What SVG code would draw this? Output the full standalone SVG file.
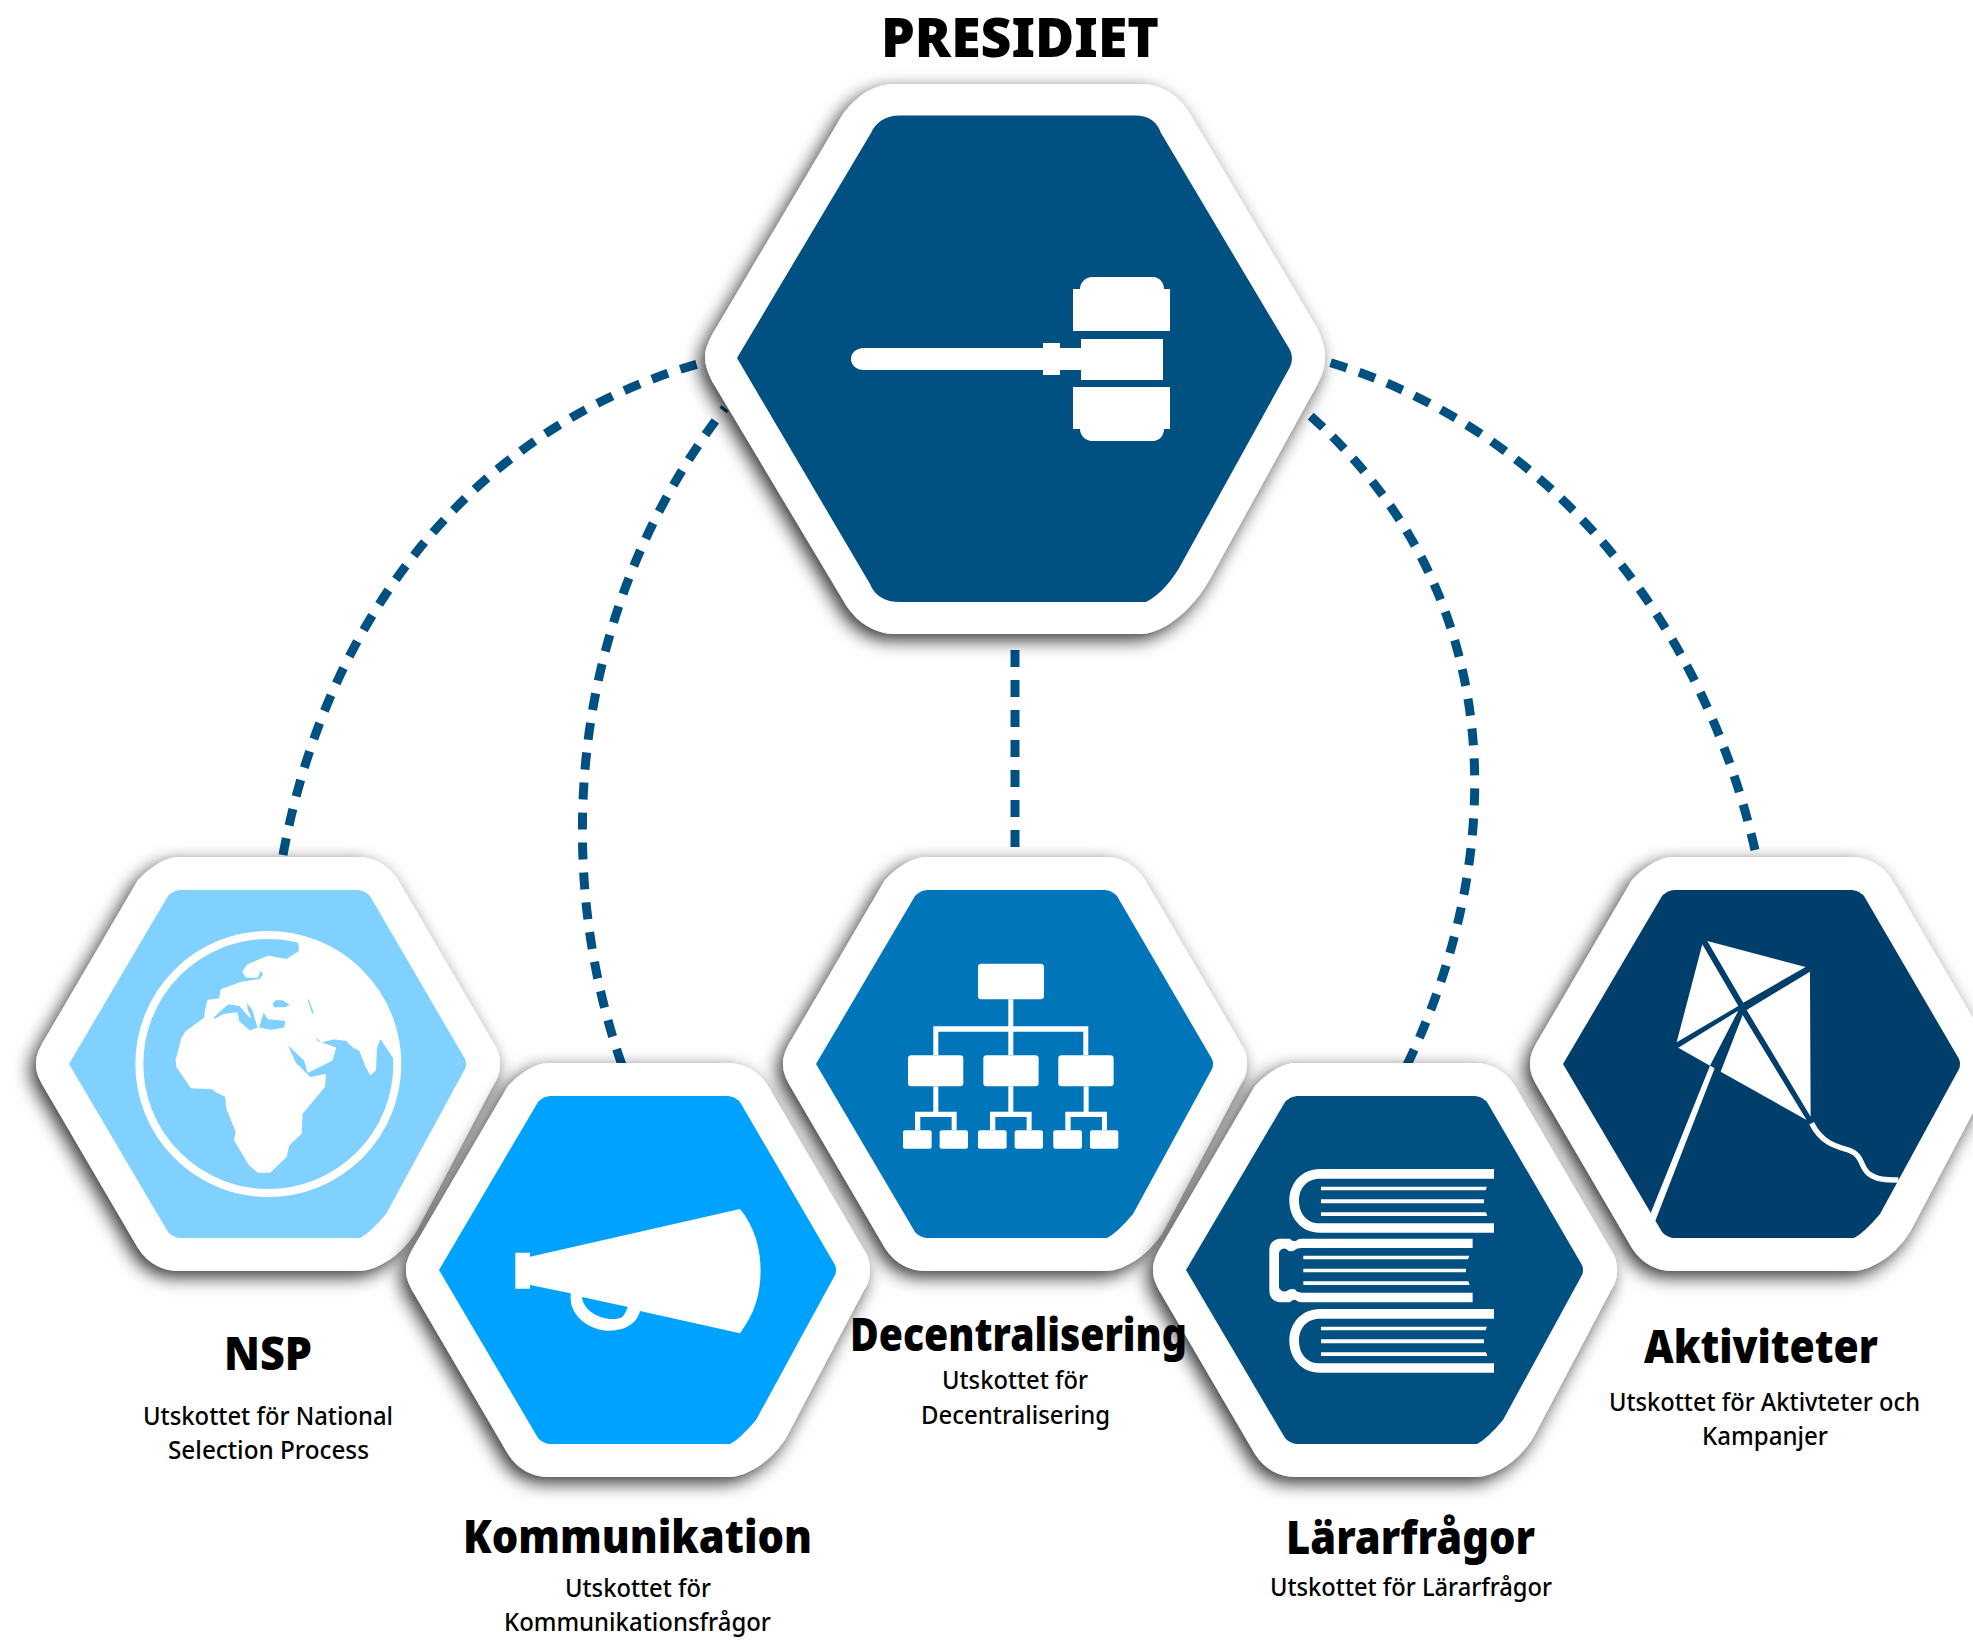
<svg xmlns="http://www.w3.org/2000/svg" width="1973" height="1641" viewBox="0 0 1973 1641">
<style>
.t{font-family:"Noto Sans","Open Sans","Liberation Sans",sans-serif;fill:#000}
.h{font-weight:900;font-size:46px}
.s{font-weight:500;font-size:25px}
.conn{fill:none;stroke:#005082;stroke-width:9;stroke-dasharray:17 13}
.w{fill:#fff}
.outer{fill:#fff;filter:url(#sh)}
</style>
<defs>
<filter id="sh" x="-20%" y="-20%" width="140%" height="140%"><feDropShadow dx="-5" dy="6" stdDeviation="9" flood-color="#000" flood-opacity=".8"/></filter>
<path id="hexO" d="M-232,0 C-232,-8 -229,-14 -226,-20 L-130,-184 C-115,-200 -100,-207 -88,-207 L88,-207 C105,-207 120,-200 130,-184 L226,-20 C230,-14 232,-8 232,0 C232,8 230,14 226,20 L149,166 C135,190 110,207 90,207 L-88,207 C-105,207 -120,200 -130,184 L-226,20 C-229,14 -232,8 -232,0Z"/>
<path id="hexI" d="M-199,0 L-100,-168 C-96,-172 -92,-174 -86,-174 L88,-174 C94,-174 98,-172 102,-168 L197,-5 Q199,0 197,5 L118,150 C108,162 98,171 92,174 L-86,174 C-92,174 -96,172 -100,168 Z"/>
<g id="book"><path d="M1032,327 L510,327 C455,327 418,370 418,422 C418,475 455,518 510,518 L1032,518 L1032,490 L510,490 C470,490 447,460 447,422 C447,385 470,356 510,356 L1032,356Z"/><path d="M513,380H1011L1007,391H513ZM513,418H1002V430H513ZM513,457H1008L1012,468H513Z"/></g>
</defs>
<rect width="1973" height="1641" fill="#fff"/>
<g id="connectors">
<path class="conn" d="M283,855 C330,600 490,420 705,362"/>
<path class="conn" d="M622,1065 C558,885 558,625 725,408"/>
<path class="conn" d="M1015,650 V880"/>
<path class="conn" d="M1407,1065 C1510,850 1510,590 1305,411"/>
<path class="conn" d="M1755,850 C1700,610 1540,425 1328,362"/>
</g>
<g id="node-presidiet">
<path class="outer" d="M705,357 C705,350 708,343 712,335 L843,114 C858,94 875,84 895,84 L1140,84 C1160,84 1178,94 1190,114 L1317,328 C1322,338 1325,348 1325,357 C1325,367 1322,376 1317,385 L1211,577 C1195,607 1165,634 1140,634 L895,634 C875,634 855,622 843,600 L712,381 C708,373 705,365 705,357Z"/>
<path fill="#005082" d="M737,358 L871,133 C876,122 885,115.500 900,115.500 L1135,115.500 C1150,115.500 1157,122 1161,133 L1290,350 Q1294,358 1290,367 L1183,561 C1173,580 1160,595 1146,602 L900,602 C885,602 875,596 870,584 Z"/>
<path class="w" d="M864,348H1043V343H1060V348H1081V339H1163V380H1081V370H1060V375H1043V370H864C856,370 851,365 851,359C851,353 856,348 864,348Z"/>
<path class="w" d="M1073,289H1080C1080,282 1086,277 1092,277H1153C1159,277 1164,282 1164,289H1170V331H1073Z"/>
<path class="w" d="M1073,387H1170V429H1164C1164,436 1159,441 1153,441H1092C1086,441 1080,436 1080,429H1073Z"/>
</g>
<g id="node-nsp">
<use href="#hexO" transform="translate(268,1064)" class="outer"/>
<use href="#hexI" transform="translate(268,1064)" fill="#80d1ff"/>
<g transform="translate(20,840) scale(.3333)">
<circle cx="745" cy="672" r="387" fill="none" stroke="#fff" stroke-width="24"/>
<path class="w" stroke="#fff" stroke-width="6" stroke-linejoin="round" fill-rule="evenodd" d="M838,308 A375,375 0 0 1 1120,650 L1085,597 1078,595 1068,625 1065,690 1052,702 1040,680 1020,630 1000,620 980,600 940,595 905,605 880,580 890,605 945,625 935,660 865,695 855,660 795,603 825,670 870,715 915,705 912,740 845,820 842,880 805,915 797,950 750,995 715,995 690,975 645,900 650,875 622,805 618,768 590,755 578,745 515,742 472,680 470,660 487,595 500,575 555,535 558,510 565,482 600,478 605,450 665,428 720,420 733,405 722,385 712,410 680,410 670,395 685,375 745,350 800,360 840,335Z
M575,535 600,510 625,490 660,495 690,530 680,510 678,478 700,510 715,560 730,510 745,535 800,540 795,565 770,570 750,572 715,565 690,575 655,545 650,520 610,525 585,540Z
M755,490 765,478 790,478 815,495 795,505 760,505Z
M855,465 870,480 885,520 875,525 865,495Z"/>
</g>
</g>
<g id="node-decentralisering">
<use href="#hexO" transform="translate(1015,1064)" class="outer"/>
<use href="#hexI" transform="translate(1015,1064)" fill="#0075ba"/>
<g transform="translate(780,850) scale(.3333)" class="w">
<rect x="594" y="341" width="198" height="107" rx="10"/>
<path d="M685,448H700V529H925V615H910V545H700V615H685V545H475V615H460V529H685Z"/>
<rect x="384" y="616" width="166" height="93" rx="10"/><rect x="610" y="616" width="166" height="93" rx="10"/><rect x="835" y="616" width="166" height="93" rx="10"/>
<g id="fork"><path d="M460,709H475V785H530V841H515V801H421V841H405V785H460Z"/><rect x="369" y="841" width="86" height="55" rx="6"/><rect x="479" y="841" width="85" height="55" rx="6"/></g>
<use href="#fork" x="225"/><use href="#fork" x="451"/>
</g>
</g>
<g id="node-aktiviteter">
<use href="#hexO" transform="translate(1762,1064)" class="outer"/>
<use href="#hexI" transform="translate(1762,1064)" fill="#003e6b"/>
<g transform="translate(1520,850) scale(.3333)">
<path class="w" d="M547,283L655,468L470,577ZM562,273L857,351L670,458ZM870,365L872,800L680,480ZM668,495L860,810L602,665ZM655,482L475,593L570,647ZM570,647L584,655L405,1115L392,1090Z"/>
<path fill="none" stroke="#fff" stroke-width="16" d="M875,820C905,880 950,890 985,900C1030,915 1020,950 1045,970C1070,990 1100,990 1135,990"/>
</g>
</g>
<g id="node-kommunikation">
<use href="#hexO" transform="translate(638,1270)" class="outer"/>
<use href="#hexI" transform="translate(638,1270)" fill="#00a2ff"/>
<g transform="translate(400,1050) scale(.3333)" class="w">
<path d="M346,608H390V620L1020,477C1065,530 1082,600 1082,660C1082,730 1065,790 1020,850L720,783C710,825 670,842 625,842C570,842 512,800 512,745V730L390,705V716H346Z"/>
</g>
<path fill="#00a2ff" d="M582,1297C583,1309 597,1319 613,1319C625,1319 624,1314 628,1307Z"/>
</g>
<g id="node-lararfragor">
<use href="#hexO" transform="translate(1385,1270)" class="outer"/>
<use href="#hexI" transform="translate(1385,1270)" fill="#005082"/>
<g transform="translate(1150,1060) scale(.3333)" class="w">
<use href="#book"/>
<use href="#book" y="420"/>
<path d="M968,536L455,536Q445,536 437,543Q425,545 420,536L395,536C370,536 358,550 358,570L358,690C358,712 370,727 395,727L420,727Q428,717 437,720Q445,727 455,727L968,727L968,698L455,698Q440,698 435,688Q425,685 415,690Q405,698 395,692Q387,688 387,680L387,580Q387,572 395,568Q405,562 415,572Q425,577 435,570Q440,564 455,564L968,564Z"/>
<path d="M460,587H958L954,598H460ZM460,626H948V637H460ZM460,664H955L959,675H460Z"/>
</g>
</g>
<g id="labels">
<text class="t h" x="881" y="57" style="font-size:54px" textLength="278" lengthAdjust="spacingAndGlyphs">PRESIDIET</text>
<text class="t h" x="224" y="1370" textLength="88" lengthAdjust="spacingAndGlyphs">NSP</text>
<text class="t s" x="143" y="1425" textLength="250" lengthAdjust="spacingAndGlyphs">Utskottet för National</text>
<text class="t s" x="168" y="1459" textLength="201" lengthAdjust="spacingAndGlyphs">Selection Process</text>
<text class="t h" x="463" y="1553" textLength="349" lengthAdjust="spacingAndGlyphs">Kommunikation</text>
<text class="t s" x="565" y="1597" textLength="146" lengthAdjust="spacingAndGlyphs">Utskottet för</text>
<text class="t s" x="504" y="1631" textLength="267" lengthAdjust="spacingAndGlyphs">Kommunikationsfrågor</text>
<text class="t h" x="850" y="1351" textLength="337" lengthAdjust="spacingAndGlyphs">Decentralisering</text>
<text class="t s" x="942" y="1389" textLength="146" lengthAdjust="spacingAndGlyphs">Utskottet för</text>
<text class="t s" x="921" y="1424" textLength="189" lengthAdjust="spacingAndGlyphs">Decentralisering</text>
<text class="t h" x="1286" y="1554" textLength="249" lengthAdjust="spacingAndGlyphs">Lärarfrågor</text>
<text class="t s" x="1270" y="1596" textLength="282" lengthAdjust="spacingAndGlyphs">Utskottet för Lärarfrågor</text>
<text class="t h" x="1644" y="1363" textLength="234" lengthAdjust="spacingAndGlyphs">Aktiviteter</text>
<text class="t s" x="1609" y="1411" textLength="311" lengthAdjust="spacingAndGlyphs">Utskottet för Aktivteter och</text>
<text class="t s" x="1702" y="1445" textLength="126" lengthAdjust="spacingAndGlyphs">Kampanjer</text>
</g>
</svg>
